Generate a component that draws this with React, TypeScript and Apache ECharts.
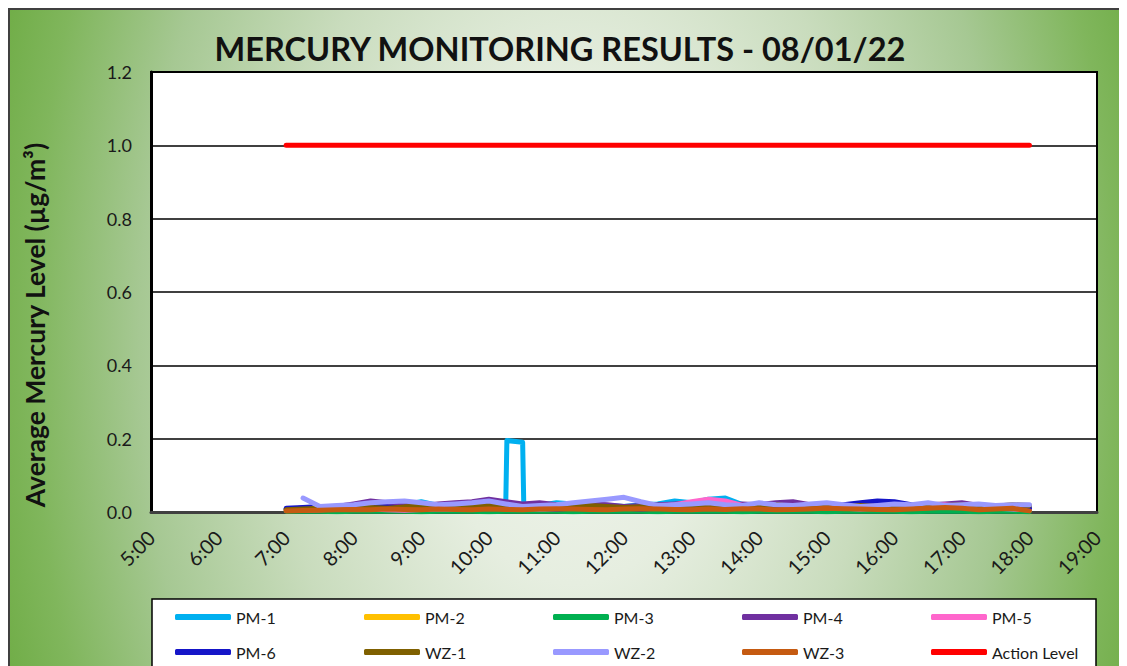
import React, { useEffect, useRef } from "react";
import * as echarts from "echarts";

const titleText = "MERCURY MONITORING RESULTS - 08/01/22";
const yAxisName = "Average Mercury Level (µg/m³)";
const hourLabels = ["5:00", "6:00", "7:00", "8:00", "9:00", "10:00", "11:00", "12:00", "13:00", "14:00", "15:00", "16:00", "17:00", "18:00", "19:00"];

const times = [
  "7:00", "7:15", "7:30", "7:45", "8:00", "8:15", "8:30", "8:45",
  "9:00", "9:15", "9:30", "9:45", "10:00", "10:15", "10:30", "10:45",
  "11:00", "11:15", "11:30", "11:45", "12:00", "12:15", "12:30", "12:45",
  "13:00", "13:15", "13:30", "13:45", "14:00", "14:15", "14:30", "14:45",
  "15:00", "15:15", "15:30", "15:45", "16:00", "16:15", "16:30", "16:45",
  "17:00", "17:15", "17:30", "17:45", "18:00",
];

const pm1Times = [
  "7:00", "7:15", "7:30", "7:45", "8:00", "8:15", "8:30", "8:45",
  "9:00", "9:15", "9:30", "9:45", "10:00", "10:15", "10:16", "10:30", "10:31", "10:45",
  "11:00", "11:15", "11:30", "11:45", "12:00", "12:15", "12:30", "12:45",
  "13:00", "13:15", "13:30", "13:45", "14:00", "14:15", "14:30", "14:45",
  "15:00", "15:15", "15:30", "15:45", "16:00", "16:15", "16:30", "16:45",
  "17:00", "17:15", "17:30", "17:45", "18:00",
];
const pm1 = [
  0.008, 0.010, 0.012, 0.015, 0.018, 0.014, 0.016, 0.020,
  0.028, 0.018, 0.015, 0.022, 0.018, 0.020, 0.195, 0.190, 0.020, 0.018,
  0.025, 0.022, 0.020, 0.018, 0.015, 0.020, 0.022, 0.030,
  0.025, 0.035, 0.038, 0.020, 0.018, 0.022, 0.015, 0.012,
  0.015, 0.010, 0.012, 0.018, 0.015, 0.012, 0.010, 0.012,
  0.008, 0.006, 0.005, 0.008, 0.010,
];
const pm2 = [
  0.005, 0.006, 0.005, 0.007, 0.006, 0.008, 0.006, 0.005,
  0.007, 0.006, 0.008, 0.007, 0.006, 0.005, 0.007, 0.006,
  0.008, 0.009, 0.007, 0.006, 0.008, 0.007, 0.006, 0.005,
  0.007, 0.008, 0.006, 0.005, 0.007, 0.006, 0.005, 0.006,
  0.008, 0.007, 0.006, 0.005, 0.007, 0.006, 0.005, 0.006,
  0.007, 0.006, 0.005, 0.006, 0.005,
];
const pm3 = [
  0.002, 0.003, 0.002, 0.001, 0.002, 0.003, 0.002, 0.002,
  0.001, 0.002, 0.003, 0.002, 0.001, 0.002, 0.002, 0.003,
  0.002, 0.001, 0.002, 0.002, 0.003, 0.002, 0.001, 0.002,
  0.003, 0.002, 0.002, 0.001, 0.002, 0.003, 0.002, 0.002,
  0.001, 0.002, 0.002, 0.003, 0.002, 0.001, 0.002, 0.003,
  0.002, 0.001, 0.002, 0.002, 0.001,
];
const pm4 = [
  0.008, 0.010, 0.012, 0.015, 0.022, 0.030, 0.025, 0.020,
  0.018, 0.022, 0.025, 0.028, 0.035, 0.028, 0.022, 0.025,
  0.020, 0.018, 0.022, 0.020, 0.015, 0.018, 0.020, 0.022,
  0.025, 0.020, 0.018, 0.022, 0.020, 0.025, 0.028, 0.020,
  0.018, 0.015, 0.020, 0.018, 0.015, 0.018, 0.020, 0.022,
  0.025, 0.018, 0.015, 0.012, 0.010,
];
const pm5 = [
  0.004, 0.005, 0.006, 0.008, 0.010, 0.008, 0.006, 0.005,
  0.007, 0.009, 0.008, 0.010, 0.012, 0.014, 0.010, 0.008,
  0.009, 0.012, 0.015, 0.013, 0.010, 0.012, 0.015, 0.020,
  0.028, 0.035, 0.030, 0.018, 0.012, 0.010, 0.015, 0.018,
  0.012, 0.010, 0.008, 0.010, 0.012, 0.015, 0.018, 0.020,
  0.015, 0.012, 0.010, 0.008, 0.006,
];
const pm6 = [
  0.010, 0.012, 0.015, 0.012, 0.010, 0.012, 0.014, 0.010,
  0.012, 0.015, 0.012, 0.010, 0.012, 0.015, 0.012, 0.010,
  0.008, 0.010, 0.012, 0.014, 0.010, 0.008, 0.010, 0.012,
  0.010, 0.012, 0.015, 0.012, 0.010, 0.012, 0.015, 0.012,
  0.018, 0.020, 0.025, 0.030, 0.028, 0.020, 0.015, 0.018,
  0.012, 0.010, 0.015, 0.012, 0.010,
];
const wz1 = [
  0.006, 0.008, 0.010, 0.012, 0.015, 0.012, 0.010, 0.014,
  0.016, 0.012, 0.015, 0.018, 0.020, 0.018, 0.015, 0.012,
  0.014, 0.016, 0.018, 0.015, 0.012, 0.014, 0.016, 0.015,
  0.018, 0.020, 0.016, 0.014, 0.018, 0.020, 0.016, 0.012,
  0.014, 0.016, 0.018, 0.015, 0.012, 0.014, 0.016, 0.018,
  0.020, 0.018, 0.016, 0.020, 0.018,
];
const wz2 = [
  null, 0.038, 0.015, 0.018, 0.020, 0.025, 0.028, 0.030,
  0.025, 0.020, 0.022, 0.025, 0.030, 0.022, 0.015, 0.018,
  0.020, 0.025, 0.030, 0.035, 0.040, 0.028, 0.018, 0.020,
  0.022, 0.025, 0.020, 0.018, 0.025, 0.020, 0.018, 0.022,
  0.025, 0.020, 0.015, 0.018, 0.022, 0.020, 0.025, 0.018,
  0.020, 0.022, 0.018, 0.020, 0.020,
];
const wz3 = [
  0.003, 0.004, 0.005, 0.006, 0.007, 0.006, 0.008, 0.007,
  0.006, 0.008, 0.007, 0.006, 0.008, 0.007, 0.006, 0.008,
  0.009, 0.008, 0.007, 0.006, 0.008, 0.009, 0.008, 0.007,
  0.006, 0.008, 0.007, 0.009, 0.008, 0.006, 0.007, 0.008,
  0.010, 0.009, 0.008, 0.007, 0.006, 0.008, 0.010, 0.012,
  0.010, 0.006, 0.008, 0.010, 0.003,
];
const actionTimes = ["7:00", "18:00"];
const actionLevel = [1.0, 1.0];

const seriesNames = ["PM-1", "PM-2", "PM-3", "PM-4", "PM-5", "PM-6", "WZ-1", "WZ-2", "WZ-3", "Action Level"];
const seriesColors = ["#00B0F0", "#FFC000", "#00B050", "#7030A0", "#FF66CC", "#1515C8", "#7F6000", "#9999FF", "#C55A11", "#FF0000"];

const toMin = (t: string) => {
  const [h, m] = t.split(":").map(Number);
  return h * 60 + m;
};
const pairs = (ts: string[], vs: (number | null)[]) => ts.map((t, i) => [toMin(t), vs[i]]);

const seriesData = [
  pairs(pm1Times, pm1),
  pairs(times, pm2),
  pairs(times, pm3),
  pairs(times, pm4),
  pairs(times, pm5),
  pairs(times, pm6),
  pairs(times, wz1),
  pairs(times, wz2),
  pairs(times, wz3),
  pairs(actionTimes, actionLevel),
];

const FONT = "Lato, 'Noto Sans', sans-serif";

export default function App() {
  const ref = useRef<HTMLDivElement>(null);
  useEffect(() => {
    document.documentElement.style.overflow = "hidden";
    document.body.style.overflow = "hidden";
    const chart = echarts.init(ref.current!, undefined, { renderer: "svg" });
    const legendText = { fontFamily: FONT, fontSize: 16, color: "#1a1a1a", width: 128, lineHeight: 20 };
    const legendBase = {
      left: 165,
      width: 1000,
      padding: 0,
      itemGap: 0,
      itemWidth: 56,
      itemHeight: 6,
      icon: "roundRect",
      selectedMode: false,
      textStyle: legendText,
    };
    chart.setOption({
      animation: false,
      backgroundColor: "transparent",
      graphic: [
        {
          type: "rect",
          z: 0,
          shape: { x: 142, y: 589, width: 944, height: 120 },
          style: { fill: "#ffffff", stroke: "#000000", lineWidth: 1.5 },
        },
        {
          type: "text",
          x: 550,
          y: 38,
          style: {
            text: titleText,
            fontFamily: FONT,
            fontWeight: "bold",
            fontSize: 32.5,
            fill: "#111111",
            align: "center",
            verticalAlign: "middle",
          },
        },
        {
          type: "text",
          x: 25,
          y: 315,
          rotation: Math.PI / 2,
          style: {
            text: yAxisName,
            fontFamily: FONT,
            fontWeight: "bold",
            fontSize: 26.5,
            fill: "#111111",
            align: "center",
            verticalAlign: "middle",
          },
        },
      ],
      grid: {
        left: 141,
        top: 62,
        width: 946,
        height: 440,
        show: true,
        backgroundColor: "#ffffff",
        borderColor: "#000000",
        borderWidth: 2,
      },
      legend: [
        { ...legendBase, data: seriesNames.slice(0, 5), top: 597 },
        { ...legendBase, data: seriesNames.slice(5), top: 632 },
      ],
      xAxis: {
        type: "value",
        min: 300,
        max: 1140,
        interval: 60,
        axisLine: { show: true, lineStyle: { color: "#404040", width: 3 } },
        axisTick: { show: false },
        splitLine: { show: false },
        axisLabel: {
          rotate: 45,
          margin: 22,
          fontFamily: FONT,
          fontSize: 20,
          color: "#1a1a1a",
          showMinLabel: true,
          showMaxLabel: true,
          formatter: (v: number) => hourLabels[Math.round((v - 300) / 60)] ?? "",
        },
      },
      yAxis: {
        type: "value",
        min: 0,
        max: 1.2,
        interval: 0.2,
        axisLine: { show: true, lineStyle: { color: "#000000", width: 3 } },
        axisTick: { show: false },
        splitLine: { show: true, lineStyle: { color: "#000000", width: 1.5 } },
        axisLabel: {
          margin: 19,
          fontFamily: FONT,
          fontSize: 18,
          color: "#1a1a1a",
          formatter: (v: number) => v.toFixed(1),
        },
      },
      series: seriesNames.map((name, i) => ({
        name,
        type: "line",
        data: seriesData[i],
        showSymbol: false,
        symbol: "none",
        color: seriesColors[i],
        lineStyle: { width: 5, color: seriesColors[i], cap: "round", join: "round" },
        emphasis: { disabled: true },
        z: 2 + i,
      })),
    });
    return () => chart.dispose();
  }, []);

  return (
    <div
      style={{
        width: 1119,
        height: 658,
        boxSizing: "border-box",
        borderLeft: "2px solid #404040",
        borderTop: "2px solid #404040",
        background:
          "radial-gradient(ellipse 54% 150% at 50.5% 50%, #f2f5ef 0%, #e6eee0 25%, #c9dcbd 50%, #a6c893 72%, #80b65c 90%, #70ad47 100%)",
        overflow: "hidden",
      }}
    >
      <div ref={ref} style={{ width: 1117, height: 656 }} />
    </div>
  );
}
